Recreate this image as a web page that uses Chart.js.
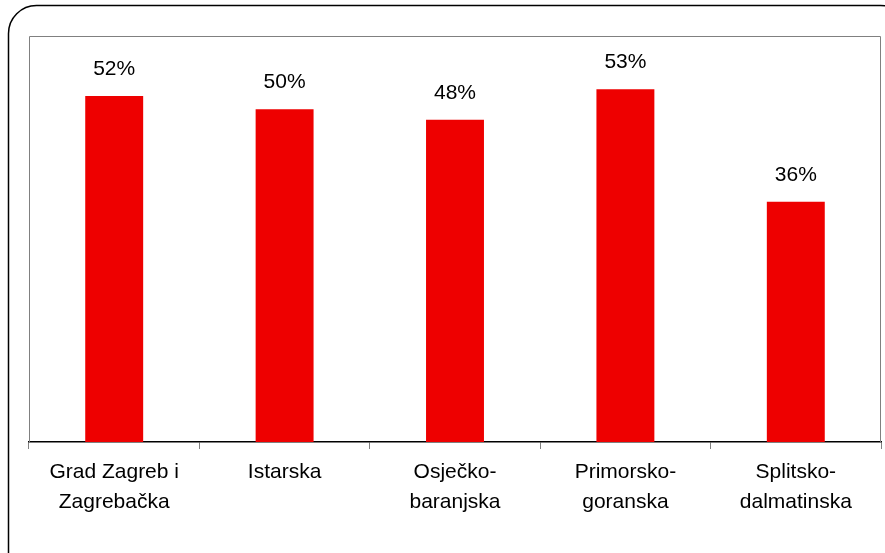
<!DOCTYPE html>
<html>
<head>
<meta charset="utf-8">
<script src="https://cdn.jsdelivr.net/npm/chart.js@4.4.0/dist/chart.umd.min.js"></script>
<style>
  html, body { margin: 0; padding: 0; background: #fff; }
  #wrap { width: 885px; height: 553px; position: relative; }
</style>
</head>
<body>
<div id="wrap"><canvas id="myChart" width="885" height="553"></canvas></div>
<script>
const canvas = document.getElementById('myChart');
const ctx = canvas.getContext('2d');

const labels = [
    ['Grad Zagreb i', 'Zagrebačka'],
    'Istarska',
    ['Osječko-', 'baranjska'],
    ['Primorsko-', 'goranska'],
    ['Splitsko-', 'dalmatinska']
];

const values = [52, 50, 48.4, 53, 36.1];

// outer rounded frame + plot box
const framePlugin = {
    id: 'frame',
    beforeDraw(chart) {
        const c = chart.ctx;
        c.save();
        c.fillStyle = '#fff';
        c.fillRect(0, 0, chart.width, chart.height);
        c.strokeStyle = '#000';
        c.lineWidth = 1.5;
        c.beginPath();
        c.roundRect(8.5, 5.5, 900, 575, 28);
        c.stroke();
        c.restore();
    },
    afterDraw(chart) {
        const a = chart.chartArea;
        const c = chart.ctx;
        c.save();
        c.strokeStyle = '#808080';
        c.lineWidth = 1;
        c.beginPath();
        c.moveTo(a.left + 0.5, a.bottom);
        c.lineTo(a.left + 0.5, a.top + 0.5);
        c.lineTo(a.right - 0.5, a.top + 0.5);
        c.lineTo(a.right - 0.5, a.bottom);
        c.stroke();
        c.restore();
    }
};

// value labels above bars
const valueLabels = {
    id: 'valueLabels',
    afterDatasetsDraw(chart) {
        const c = chart.ctx;
        const meta = chart.getDatasetMeta(0);
        c.save();
        c.font = '21px "Liberation Sans", Arial, sans-serif';
        c.fillStyle = '#000';
        c.textAlign = 'center';
        c.textBaseline = 'middle';
        meta.data.forEach(function (bar, i) {
            c.fillText(Math.round(values[i]) + '%', bar.x, bar.y - 27);
        });
        c.restore();
    }
};

var myChart = new Chart(ctx, {
    type: 'bar',
    data: {
        labels: labels,
        datasets: [{
            data: values,
            backgroundColor: '#EE0000',
            barPercentage: 0.68,
            categoryPercentage: 0.5
        }]
    },
    options: {
        responsive: false,
        animation: false,
        layout: { padding: { left: 29, top: 36, right: 4, bottom: 0 } },
        plugins: {
            legend: { display: false },
            tooltip: { enabled: false }
        },
        scales: {
            y: {
                display: false,
                min: 0,
                max: 61
            },
            x: {
                afterFit: function (scale) { scale.height = 111; },
                grid: {
                    offset: true,
                    drawOnChartArea: false,
                    tickLength: 7,
                    color: '#808080'
                },
                border: { color: '#000', width: 1.5 },
                ticks: {
                    color: '#000',
                    padding: 8,
                    maxRotation: 0,
                    autoSkip: false,
                    font: { family: '"Liberation Sans", Arial, sans-serif', size: 21, lineHeight: 1.43 }
                }
            }
        }
    },
    plugins: [framePlugin, valueLabels]
});
</script>
</body>
</html>
